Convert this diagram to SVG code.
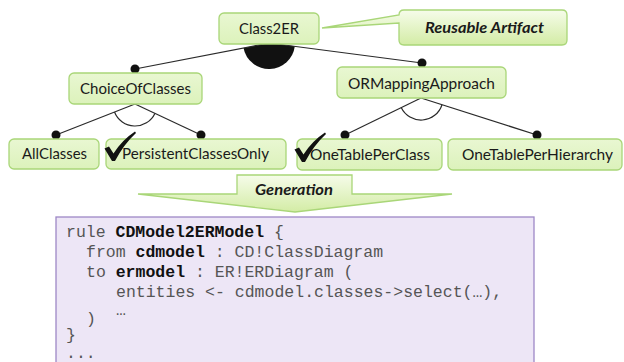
<svg xmlns="http://www.w3.org/2000/svg" width="624" height="362" viewBox="0 0 624 362">
  <defs>
    <linearGradient id="nodeFill" x1="0" y1="0" x2="0" y2="1">
      <stop offset="0" stop-color="#e9f7d2"/>
      <stop offset="1" stop-color="#dcf2bb"/>
    </linearGradient>
    <linearGradient id="calloutFill" x1="0" y1="0" x2="0" y2="1">
      <stop offset="0" stop-color="#f6fcea"/>
      <stop offset="1" stop-color="#d3eca5"/>
    </linearGradient>
    <style>
      .node { fill: url(#nodeFill); stroke: #a9d678; stroke-width: 1.3; }
      .callout { fill: url(#calloutFill); stroke: #a9d678; stroke-width: 1.3; }
      .label { font-family: Lato, "Open Sans", "Liberation Sans", sans-serif; font-size: 16px; fill: #1a1a1a; text-anchor: middle; }
      .tag { font-family: Lato, "Open Sans", "Liberation Sans", sans-serif; font-size: 16px; font-weight: bold; font-style: italic; fill: #1a1a1a; text-anchor: middle; }
      .edge { stroke: #2a2a2a; stroke-width: 1.2; fill: none; }
      .dot { fill: #111; }
      .check { fill: #111; }
      .code { font-family: "Liberation Mono", "DejaVu Sans Mono", monospace; font-size: 16.5px; fill: #555; }
      .kw { font-weight: bold; fill: #111; }
    </style>
  </defs>

  <!-- feature tree connectors -->
  <g id="connectors">
    <!-- mandatory alternative group under the root -->
    <path d="M269,43 L294.8,46.3 A26,26 0 0 1 243.5,48 Z" fill="#111"/>
    <line class="edge" x1="269" y1="43" x2="135" y2="69"/>
    <line class="edge" x1="269" y1="43" x2="422" y2="63"/>
    <circle class="dot" cx="135" cy="69" r="4.5"/>
    <circle class="dot" cx="422" cy="63" r="4.5"/>

    <!-- ChoiceOfClasses alternatives -->
    <line class="edge" x1="135" y1="104" x2="56" y2="135"/>
    <line class="edge" x1="135" y1="104" x2="201" y2="135"/>
    <path class="edge" d="M154.9,113.4 A22,22 0 0 1 114.5,112"/>
    <circle class="dot" cx="56" cy="135" r="4.5"/>
    <circle class="dot" cx="201" cy="135" r="4.5"/>

    <!-- ORMappingApproach alternatives -->
    <line class="edge" x1="421" y1="98" x2="345" y2="135"/>
    <line class="edge" x1="421" y1="98" x2="537" y2="135"/>
    <path class="edge" d="M442,104.7 A22,22 0 0 1 401.2,107.6"/>
    <circle class="dot" cx="345" cy="135" r="4.5"/>
    <circle class="dot" cx="537" cy="135" r="4.5"/>
  </g>

  <g id="class2er">
    <rect class="node" x="219" y="13" width="100" height="31" rx="5"/>
    <text class="label" x="269" y="34" textLength="60" lengthAdjust="spacingAndGlyphs">Class2ER</text>
  </g>

  <g id="reusable-artifact">
    <path class="callout" d="M404,10 H562 Q567,10 567,15 V40 Q567,45 562,45 H404 Q399,45 399,40 V23 L322,28 L399,15 Q399,10 404,10 Z"/>
    <text class="tag" x="484.5" y="33" textLength="119" lengthAdjust="spacingAndGlyphs">Reusable Artifact</text>
  </g>

  <g id="choice-of-classes">
    <rect class="node" x="69" y="73" width="133" height="31" rx="5"/>
    <text class="label" x="135.5" y="94" textLength="111" lengthAdjust="spacingAndGlyphs">ChoiceOfClasses</text>
  </g>

  <g id="or-mapping-approach">
    <rect class="node" x="337" y="67" width="169" height="31" rx="5"/>
    <text class="label" x="421.5" y="89" textLength="147" lengthAdjust="spacingAndGlyphs">ORMappingApproach</text>
  </g>

  <g id="all-classes">
    <rect class="node" x="9" y="139" width="90" height="30" rx="5"/>
    <text class="label" x="54.5" y="159" textLength="65" lengthAdjust="spacingAndGlyphs">AllClasses</text>
  </g>

  <g id="persistent-classes-only">
    <rect class="node" x="106" y="139" width="180" height="30" rx="5"/>
    <path class="check" d="M104.5,148.5 L109,146.5 L113.5,153.5 Q122,140 135,131.5 L136,133 Q124,144 115,161 L112,161 Z"/>
    <text class="label" x="195.5" y="159" textLength="147" lengthAdjust="spacingAndGlyphs">PersistentClassesOnly</text>
  </g>

  <g id="one-table-per-class">
    <rect class="node" x="297" y="139" width="145" height="31" rx="5"/>
    <path class="check" d="M294.5,149.5 L299,147.5 L303.5,154.5 Q312,141 325,132.5 L326,134 Q314,145 305,162 L302,162 Z"/>
    <text class="label" x="370" y="160" textLength="120" lengthAdjust="spacingAndGlyphs">OneTablePerClass</text>
  </g>

  <g id="one-table-per-hierarchy">
    <rect class="node" x="448" y="139" width="174" height="31" rx="5"/>
    <text class="label" x="537.5" y="160" textLength="151" lengthAdjust="spacingAndGlyphs">OneTablePerHierarchy</text>
  </g>

  <g id="generation">
    <path class="callout" d="M237,175 H352 V194 H452 L295,212 L138,194 H237 Z"/>
    <text class="tag" x="294" y="195" textLength="78" lengthAdjust="spacingAndGlyphs">Generation</text>
  </g>

  <g id="atl-rule">
    <rect x="56" y="217" width="478" height="160" fill="#ede6f6" stroke="#9d88c6" stroke-width="1.3"/>
    <text class="code" x="66" y="237">rule <tspan class="kw">CDModel2ERModel</tspan> {</text>
    <text class="code" x="86" y="257">from <tspan class="kw">cdmodel</tspan> : CD!ClassDiagram</text>
    <text class="code" x="86" y="277">to <tspan class="kw">ermodel</tspan> : ER!ERDiagram (</text>
    <text class="code" x="116" y="297">entities &lt;- cdmodel.classes-&gt;select(…),</text>
    <text class="code" x="116" y="315" font-size="10">…</text>
    <text class="code" x="86" y="324">)</text>
    <text class="code" x="66" y="340">}</text>
    <text class="code" x="66" y="358">...</text>
  </g>
</svg>
